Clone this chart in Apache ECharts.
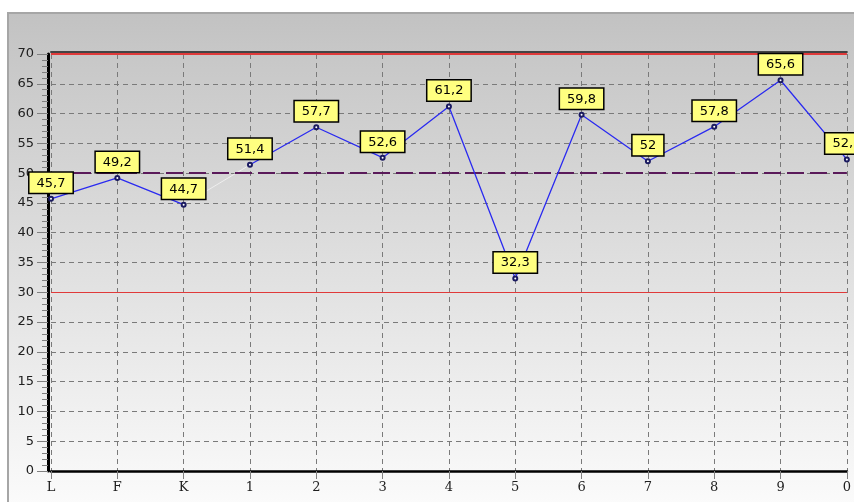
<!DOCTYPE html>
<html>
<head>
<meta charset="utf-8">
<script src="https://cdn.jsdelivr.net/npm/echarts@6/dist/echarts.min.js"></script>
<style>
  html, body { margin: 0; padding: 0; background: #ffffff; }
  #panel {
    position: absolute; left: 7px; top: 12px; width: 860px; height: 500px;
    border-left: 2px solid #a6a6a6; border-top: 2px solid #a6a6a6;
    background: linear-gradient(to bottom, #c2c2c2 0%, #c6c6c6 6%, #fcfcfc 100%);
  }
  #chart { position: absolute; left: 0; top: 0; width: 854px; height: 502px; }
</style>
</head>
<body>
<div id="panel"></div>
<div id="chart"></div>
<script>
// ---- data ----
var categories = ['L', 'F', 'K', '1', '2', '3', '4', '5', '6', '7', '8', '9', '0'];
var values = [45.7, 49.2, 44.7, 51.4, 57.7, 52.6, 61.2, 32.3, 59.8, 52, 57.8, 65.6, 52.3];
var upperLimit = 70;
var lowerLimit = 30;
var centerLine = 50;
var yMin = 0, yMax = 70, yStep = 5;

// split into the drawn pieces (segment K -> 1 is a faint connector)
var firstPart = values.map(function (v, i) { return i <= 2 ? v : null; });
var secondPart = values.map(function (v, i) { return i >= 3 ? v : null; });
var connector = values.map(function (v, i) { return (i === 2 || i === 3) ? v : null; });

var chart = echarts.init(document.getElementById('chart'), null, { renderer: 'canvas' });

var labelStyle = {
  show: true,
  position: 'top',
  distance: 3,
  formatter: function (p) { return String(p.value).replace('.', ','); },
  backgroundColor: '#ffff80',
  borderColor: '#000000',
  borderWidth: 1.5,
  padding: [3, 7, 2, 7],
  color: '#000000',
  fontFamily: 'DejaVu Sans',
  fontSize: 13,
  lineHeight: 15
};

function mainSeries(data) {
  return {
    type: 'line',
    data: data,
    connectNulls: false,
    symbol: 'emptyCircle',
    symbolSize: 4,
    showSymbol: true,
    lineStyle: { color: '#2a2af0', width: 1.3 },
    itemStyle: { color: '#1a1a60', borderWidth: 1 },
    label: labelStyle,
    z: 5,
    animation: false
  };
}

var option = {
  animation: false,
  backgroundColor: 'transparent',
  grid: { left: 51, right: 3, top: 54, bottom: 31, containLabel: false },
  xAxis: [{
    type: 'category',
    data: categories,
    boundaryGap: false,
    axisLine: { lineStyle: { color: '#000000', width: 2.5 } },
    axisTick: { show: true, length: 8, alignWithLabel: true, lineStyle: { color: '#808080', width: 1 } },
    axisLabel: { color: '#202020', fontFamily: 'DejaVu Serif', fontSize: 13, margin: 10 },
    splitLine: { show: true, lineStyle: { color: '#7a7a7a', type: [5, 4], width: 1 } }
  }, {
    type: 'category',
    data: categories,
    position: 'top',
    offset: 2,
    boundaryGap: false,
    axisLine: { show: true, lineStyle: { color: '#444444', width: 2 } },
    axisTick: { show: false },
    axisLabel: { show: false },
    splitLine: { show: false }
  }],
  yAxis: {
    type: 'value',
    min: yMin,
    max: yMax,
    interval: yStep,
    offset: 3,
    axisLine: { show: true, lineStyle: { color: '#000000', width: 3 } },
    axisTick: { show: true, length: 11, lineStyle: { color: '#808080', width: 1 } },
    minorTick: { show: true, splitNumber: 5, length: 6, lineStyle: { color: '#808080', width: 1 } },
    axisLabel: { color: '#202020', fontFamily: 'DejaVu Sans', fontSize: 13, margin: 14 },
    splitLine: { show: true, lineStyle: { color: '#7a7a7a', type: [5, 4], width: 1 } }
  },
  series: [
    {
      type: 'line',
      data: connector,
      symbol: 'none',
      lineStyle: { color: '#eeeeee', width: 1 },
      z: 3,
      silent: true,
      markLine: {
        silent: true,
        symbol: 'none',
        label: { show: false },
        animation: false,
        data: [
          { yAxis: upperLimit, lineStyle: { color: '#e03a3a', width: 2, type: 'solid' } },
          { yAxis: lowerLimit, lineStyle: { color: '#e03a3a', width: 1, type: 'solid' } },
          { yAxis: centerLine, lineStyle: { color: '#5a1a5a', width: 2, type: [17, 6] } }
        ]
      }
    },
    mainSeries(firstPart),
    mainSeries(secondPart)
  ]
};
chart.setOption(option);
</script>
</body>
</html>
